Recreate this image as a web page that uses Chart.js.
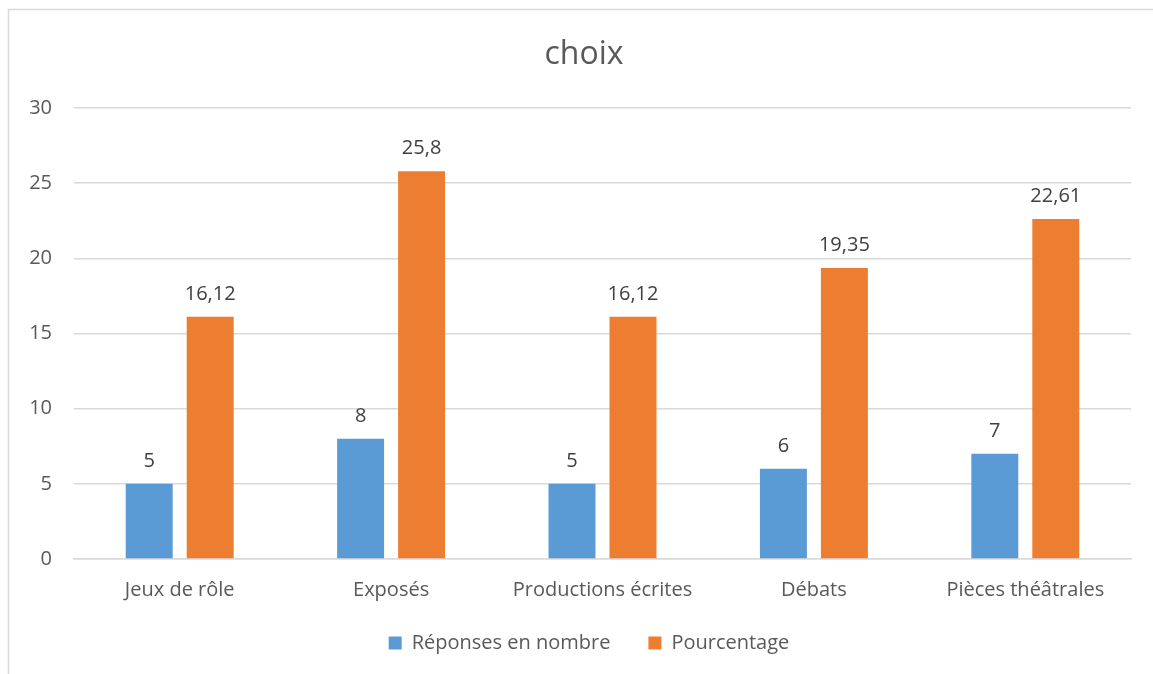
<!DOCTYPE html>
<html>
<head>
<meta charset="utf-8">
<script src="https://cdn.jsdelivr.net/npm/chart.js@4/dist/chart.umd.min.js"></script>
<style>
html,body{margin:0;padding:0;background:#fff;}
#wrap{position:relative;width:1153px;height:674px;}
</style>
</head>
<body>
<div id="wrap"><canvas id="c" width="1153" height="674"></canvas></div>
<script>
const categories = ["Jeux de rôle", "Exposés", "Productions écrites", "Débats", "Pièces théâtrales"];
const reponsesEnNombre = [5, 8, 5, 6, 7];
const pourcentage = [16.12, 25.8, 16.12, 19.35, 22.61];
const seriesNames = ["Réponses en nombre", "Pourcentage"];
const chartTitle = "choix";
const yMin = 0, yMax = 30, yStep = 5;

const FONT = "'Open Sans', sans-serif";
const TEXT = "#595959";

const borderPlugin = {
  id: 'frame',
  beforeDraw(chart) {
    const ctx = chart.ctx;
    ctx.save();
    ctx.fillStyle = '#fff';
    ctx.fillRect(0, 0, chart.width, chart.height);
    ctx.strokeStyle = '#D9D9D9';
    ctx.lineWidth = 1.5;
    ctx.strokeRect(8.5, 9.5, 1200, 800);
    ctx.restore();
  }
};

// shift title / legend boxes to match the reference placement
const shiftPlugin = {
  id: 'shiftBoxes',
  afterLayout(chart) {
    const t = chart.titleBlock, l = chart.legend;
    if (t) { t.left += 18.5; t.right += 18.5; }
    if (l) { l.left += 23.5; l.right += 23.5; l.top -= 10; l.bottom -= 10; }
  }
};

const labelPlugin = {
  id: 'valueLabels',
  afterDatasetsDraw(chart) {
    const ctx = chart.ctx;
    ctx.save();
    ctx.font = "20px " + FONT;
    ctx.fillStyle = "#404040";
    ctx.textAlign = 'center';
    ctx.textBaseline = 'alphabetic';
    chart.data.datasets.forEach((ds, i) => {
      const meta = chart.getDatasetMeta(i);
      meta.data.forEach((bar, j) => {
        const txt = String(ds.data[j]).replace('.', ',');
        ctx.fillText(txt, bar.x, bar.y - 17);
      });
    });
    ctx.restore();
  }
};

new Chart(document.getElementById('c'), {
  type: 'bar',
  data: {
    labels: categories,
    datasets: [
      { label: seriesNames[0], data: reponsesEnNombre, backgroundColor: '#5B9BD5', categoryPercentage: 0.577, barPercentage: 0.77 },
      { label: seriesNames[1], data: pourcentage, backgroundColor: '#ED7D31', categoryPercentage: 0.577, barPercentage: 0.77 }
    ]
  },
  options: {
    responsive: false,
    animation: false,
    layout: { padding: { left: 0, right: 22, top: 0, bottom: 1 } },
    plugins: {
      title: {
        display: true, text: chartTitle, color: TEXT,
        font: { family: FONT, size: 32, weight: 'normal' },
        padding: { top: 35.8, bottom: 33.8 }
      },
      legend: {
        position: 'bottom',
        labels: {
          color: TEXT, font: { family: FONT, size: 20 },
          boxWidth: 13, boxHeight: 13, padding: 38
        }
      },
      tooltip: { enabled: false }
    },
    scales: {
      x: {
        afterFit(scale) { scale.height = 46; },
        grid: { display: false, drawTicks: false },
        border: { display: true, color: '#D9D9D9', width: 1.5 },
        ticks: { color: TEXT, font: { family: FONT, size: 20 }, padding: 19, maxRotation: 0, autoSkip: false }
      },
      y: {
        min: yMin, max: yMax,
        afterFit(scale) { scale.width = 74; },
        grid: { color: '#D9D9D9', lineWidth: 1.5, drawTicks: false },
        border: { display: false },
        ticks: { stepSize: yStep, color: TEXT, font: { family: FONT, size: 20 }, padding: 22 }
      }
    }
  },
  plugins: [borderPlugin, shiftPlugin, labelPlugin]
});
</script>
</body>
</html>
